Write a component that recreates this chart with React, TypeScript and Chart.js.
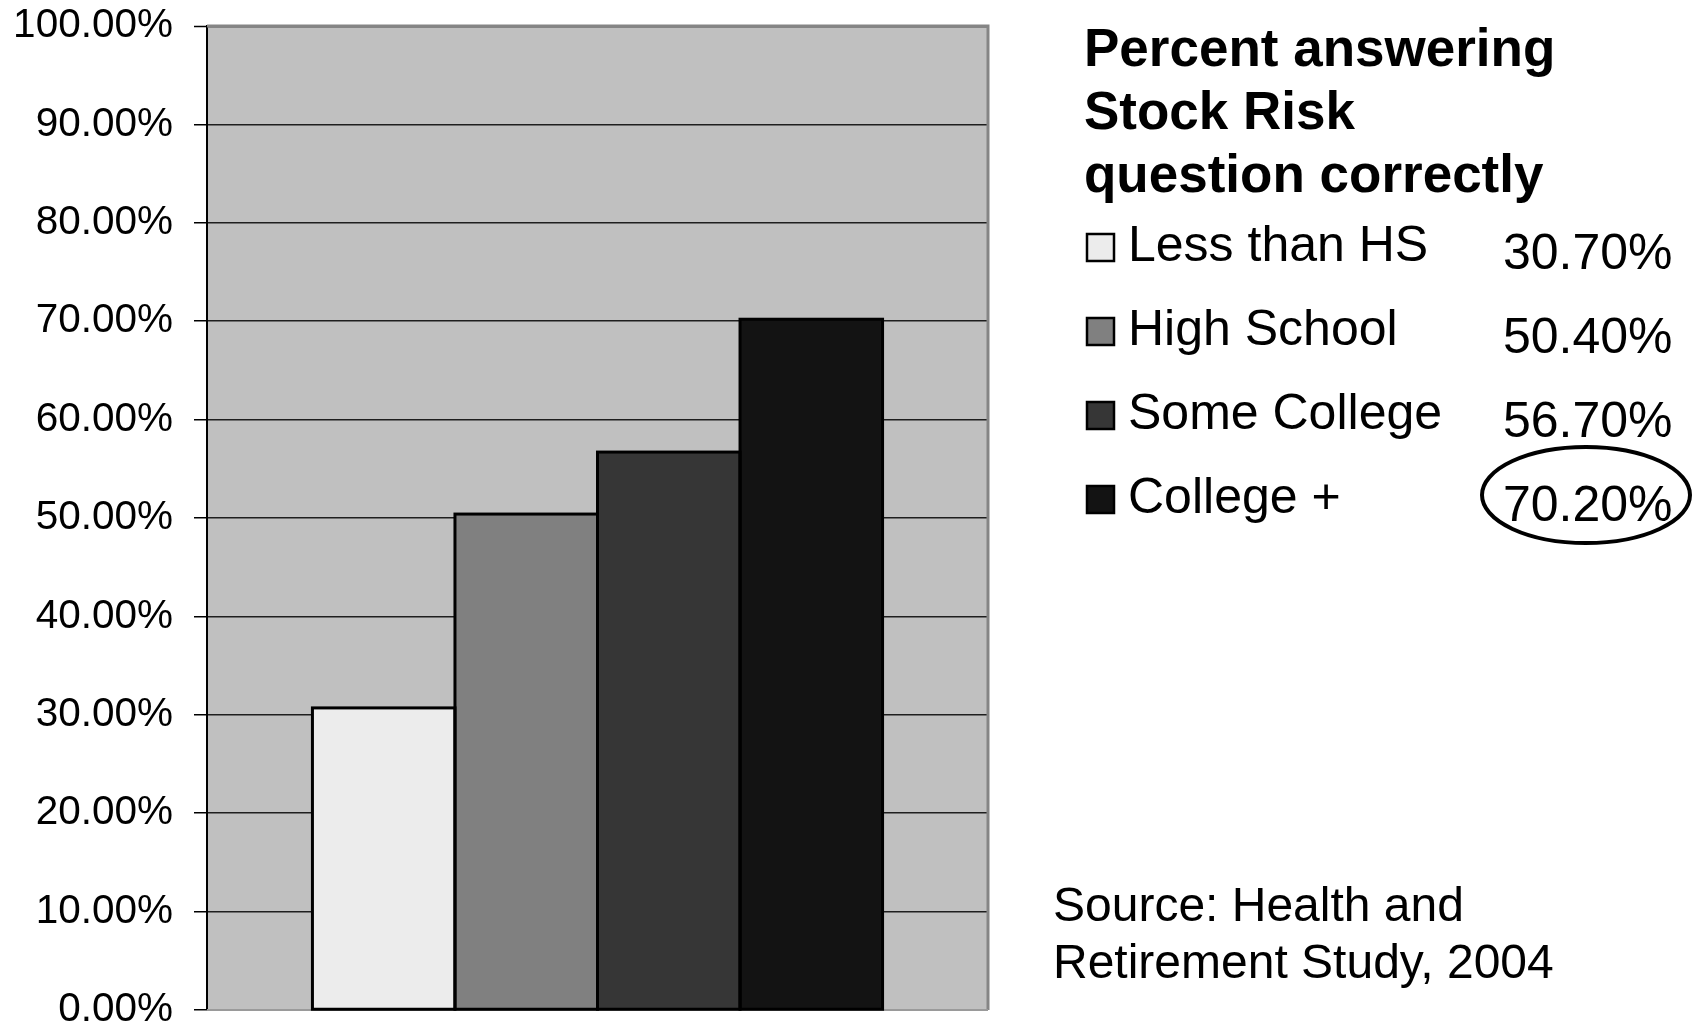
import React, { useEffect, useRef } from 'react';
import { Chart, registerables } from 'chart.js';

Chart.register(...registerables);

// Education groups and the share answering the stock-risk question correctly (%)
const categories = ['Less than HS', 'High School', 'Some College', 'College +'];
const percentCorrect = [30.7, 50.4, 56.7, 70.2];
const barColors = ['#ECECEC', '#808080', '#363636', '#131313'];
const highlightedGroup = 'College +';

// Y axis range and tick step (%)
const yMin = 0;
const yMax = 100;
const yStep = 10;

const titleLines = ['Percent answering', 'Stock Risk', 'question correctly'];
const sourceLines = ['Source: Health and', 'Retirement Study, 2004'];

const FONT = '"Liberation Sans", Arial, Helvetica, sans-serif';
const W = 1698;
const H = 1026;

const pct = (v: number) => v.toFixed(2) + '%';

// Plot background, frame and centred bar outlines
const plotFrame = {
  id: 'plotFrame',
  beforeDraw(chart: any) {
    const { ctx, chartArea: a } = chart;
    ctx.save();
    ctx.fillStyle = '#FFFFFF';
    ctx.fillRect(0, 0, chart.width, chart.height);
    ctx.fillStyle = '#C0C0C0';
    ctx.fillRect(a.left, a.top, a.right - a.left, a.bottom - a.top);
    ctx.restore();
  },
  beforeDatasetsDraw(chart: any) {
    const { ctx, chartArea: a } = chart;
    ctx.save();
    ctx.strokeStyle = '#858585';
    ctx.lineWidth = 3;
    ctx.beginPath();
    ctx.moveTo(a.left, a.top);
    ctx.lineTo(a.right, a.top);
    ctx.lineTo(a.right, a.bottom);
    ctx.stroke();
    ctx.strokeStyle = '#9A9A9A';
    ctx.lineWidth = 2;
    ctx.beginPath();
    ctx.moveTo(a.left, a.bottom);
    ctx.lineTo(a.right, a.bottom);
    ctx.stroke();
    ctx.restore();
  },
  afterDatasetsDraw(chart: any) {
    const { ctx } = chart;
    ctx.save();
    ctx.strokeStyle = '#000000';
    ctx.lineWidth = 3;
    chart.data.datasets.forEach((_: any, i: number) => {
      const meta = chart.getDatasetMeta(i);
      meta.data.forEach((el: any) => {
        const { x, y, base, width } = el.getProps(['x', 'y', 'base', 'width'], true);
        ctx.strokeRect(x - width / 2, y, width, base - y);
      });
    });
    ctx.restore();
  },
};

// Title, legend with values, highlight ring and source note on the right
const sidePanel = {
  id: 'sidePanel',
  afterDraw(chart: any) {
    const { ctx } = chart;
    ctx.save();
    ctx.fillStyle = '#000000';
    ctx.textAlign = 'left';
    ctx.textBaseline = 'alphabetic';

    ctx.font = `bold 53px ${FONT}`;
    titleLines.forEach((line, i) => ctx.fillText(line, 1084, 66 + i * 63));

    const rowBase = 261;
    const rowStep = 84;
    categories.forEach((name, i) => {
      const base = rowBase + i * rowStep;
      const box = 27;
      ctx.fillStyle = barColors[i];
      ctx.fillRect(1087, base - box, box, box);
      ctx.strokeStyle = '#000000';
      ctx.lineWidth = 2.5;
      ctx.strokeRect(1087, base - box, box, box);

      ctx.fillStyle = '#000000';
      ctx.font = `50px ${FONT}`;
      ctx.fillText(name, 1128, base);
      ctx.fillText(pct(percentCorrect[i]), 1503, base + 8);

      if (name === highlightedGroup) {
        ctx.beginPath();
        ctx.lineWidth = 4;
        ctx.ellipse(1586, base - 18, 104, 48, 0, 0, Math.PI * 2);
        ctx.stroke();
      }
    });

    ctx.font = `48px ${FONT}`;
    sourceLines.forEach((line, i) => ctx.fillText(line, 1053, 921 + i * 57));
    ctx.restore();
  },
};

export default function App() {
  const canvasRef = useRef<HTMLCanvasElement | null>(null);

  useEffect(() => {
    if (!canvasRef.current) return;
    const chart = new Chart(canvasRef.current, {
      type: 'bar',
      data: {
        labels: [''],
        datasets: categories.map((name, i) => ({
          label: name,
          data: [percentCorrect[i]],
          backgroundColor: barColors[i],
          borderWidth: 0,
          categoryPercentage: 0.73,
          barPercentage: 1.0,
        })),
      },
      options: {
        animation: false,
        responsive: false,
        devicePixelRatio: 1,
        layout: { padding: { left: 0, right: W - 988, top: 26, bottom: H - 1010 } },
        plugins: {
          legend: { display: false },
          tooltip: { enabled: false },
        },
        scales: {
          x: { display: false },
          y: {
            min: yMin,
            max: yMax,
            border: { display: true, color: '#000000', width: 2 },
            grid: {
              drawOnChartArea: true,
              drawTicks: true,
              tickLength: 13,
              tickColor: '#000000',
              tickWidth: 1.5,
              color: (c: any) =>
                c.tick && c.tick.value === yMax ? '#858585' : c.tick && c.tick.value === yMin ? '#9A9A9A' : '#1E1E1E',
              lineWidth: (c: any) => (c.tick && c.tick.value === yMax ? 3 : 1.5),
            },
            ticks: {
              stepSize: yStep,
              padding: 21,
              color: '#000000',
              font: { family: FONT, size: 40.5 },
              callback: (v: any) => pct(Number(v)),
            },
            afterFit: (scale: any) => {
              scale.width = 207;
              scale.paddingTop = 0;
              scale.paddingBottom = 0;
            },
          },
        },
      },
      plugins: [plotFrame, sidePanel],
    });
    return () => chart.destroy();
  }, []);

  return (
    <div style={{ position: 'fixed', left: 0, top: 0, width: W, height: H, background: '#FFFFFF' }}>
      <canvas ref={canvasRef} width={W} height={H} style={{ display: 'block', width: W, height: H }} />
    </div>
  );
}
